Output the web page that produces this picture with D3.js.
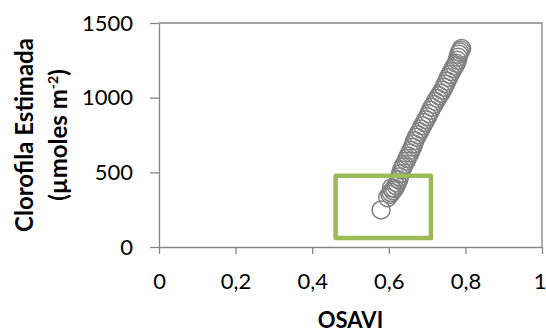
<!DOCTYPE html>
<meta charset="utf-8">
<style>
body { margin:0; background:#fff; }
svg text { font-family: Lato, "Open Sans", sans-serif; fill:#000; }
.tick text { font-size:22px; }
.axis path, .axis line { stroke:#868686; stroke-width:1.3px; }
.title { font-size:24px; font-weight:bold; }
</style>
<body>
<svg width="546" height="333" id="vis"></svg>
</body>
<script src="https://d3js.org/d3.v7.min.js"></script>
<script>
// OSAVI values
var osavi = [0.580, 0.597, 0.603, 0.606, 0.611, 0.607, 0.615, 0.619, 0.622, 0.626,
  0.628, 0.631, 0.633, 0.637, 0.640, 0.645, 0.648, 0.651, 0.655, 0.658,
  0.662, 0.665, 0.668, 0.672, 0.676, 0.680, 0.684, 0.688, 0.693, 0.697,
  0.701, 0.705, 0.709, 0.713, 0.718, 0.722, 0.727, 0.731, 0.736, 0.740,
  0.744, 0.748, 0.752, 0.756, 0.760, 0.764, 0.768, 0.772, 0.776, 0.779,
  0.781, 0.783, 0.785, 0.788, 0.790];
// estimated chlorophyll (umoles m-2)
var clorofila = [248, 330, 352, 365, 378, 395, 392, 410, 428, 450,
  470, 492, 515, 535, 552, 575, 592, 610, 630, 648,
  668, 690, 712, 735, 752, 772, 790, 812, 833, 852,
  872, 893, 915, 935, 955, 975, 995, 1012, 1030, 1050,
  1070, 1092, 1112, 1135, 1155, 1175, 1195, 1212, 1230, 1250,
  1270, 1290, 1305, 1318, 1330];

var xTicks = [0, 0.2, 0.4, 0.6, 0.8, 1];
var yTicks = [0, 500, 1000, 1500];

// highlighted region (green box), in data units
var boxX = [0.461, 0.710];
var boxY = [60, 477];

var svg = d3.select("svg"),
    margin = {top: 23, right: 4, bottom: 86, left: 159},
    width = +svg.attr("width") - margin.left - margin.right,
    height = +svg.attr("height") - margin.top - margin.bottom;

var x = d3.scaleLinear().domain([0, 1]).range([0, width]),
    y = d3.scaleLinear().domain([0, 1500]).range([height, 0]);

var g = svg.append("g")
    .attr("transform", "translate(" + margin.left + "," + margin.top + ")");

// frame top + right
g.append("path")
    .attr("d", "M0,0H" + width + "V" + height)
    .attr("fill", "none")
    .attr("stroke", "#868686")
    .attr("stroke-width", 1.3);

var fmt = function(d) { return String(d).replace(".", ","); };

var xaxis = g.append("g")
    .attr("class", "axis")
    .attr("transform", "translate(0," + height + ")")
    .call(d3.axisBottom(x).tickValues(xTicks).tickFormat(fmt).tickSize(7).tickPadding(19).tickSizeOuter(0));

// last label "1" sits at the very edge, keep it inside
xaxis.selectAll(".tick text").filter(function(d) { return d === 1; })
    .attr("text-anchor", "end").attr("dx", 4);

var yaxis = g.append("g")
    .attr("class", "axis")
    .call(d3.axisLeft(y).tickValues(yTicks).tickFormat(d3.format("d")).tickSize(9).tickPadding(17).tickSizeOuter(0));

var pts = osavi.map(function(v, i) { return {x: v, y: clorofila[i]}; });

g.selectAll(".dot").data(pts).enter().append("circle")
    .attr("class", "dot")
    .attr("cx", function(d) { return x(d.x); })
    .attr("cy", function(d) { return y(d.y); })
    .attr("r", 9)
    .attr("fill", "none")
    .attr("stroke", "#808080")
    .attr("stroke-width", 1.5);

g.append("rect")
    .attr("x", x(boxX[0]))
    .attr("y", y(boxY[1]))
    .attr("width", x(boxX[1]) - x(boxX[0]))
    .attr("height", y(boxY[0]) - y(boxY[1]))
    .attr("fill", "none")
    .attr("stroke", "#9BBB59")
    .attr("stroke-width", 4.5)
    .attr("stroke-linejoin", "round");

// axis titles
svg.append("text")
    .attr("class", "title")
    .style("font-size", "22px")
    .attr("x", margin.left + width / 2)
    .attr("y", 328)
    .attr("text-anchor", "middle")
    .text("OSAVI");

svg.append("text")
    .attr("class", "title")
    .attr("transform", "translate(33," + (margin.top + height / 2) + ") rotate(-90)")
    .attr("text-anchor", "middle")
    .text("Clorofila Estimada");

var t2 = svg.append("text")
    .attr("class", "title")
    .attr("transform", "translate(67," + (margin.top + height / 2) + ") rotate(-90)")
    .attr("text-anchor", "middle");
t2.append("tspan").text("(µmoles m");
t2.append("tspan").attr("dy", -9).style("font-size", "14px").text("-2");
t2.append("tspan").attr("dy", 9).text(")");
</script>
